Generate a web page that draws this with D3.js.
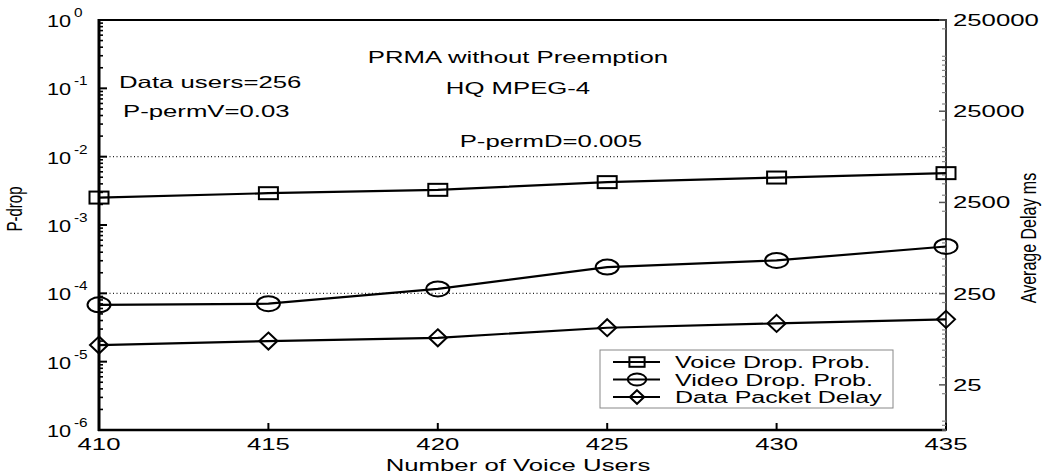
<!DOCTYPE html>
<html>
<head>
<meta charset="utf-8">
<script src="https://cdn.jsdelivr.net/npm/d3@7"></script>
<style>
  body { margin: 0; background: #fff; }
  svg { display: block; }
  text { font-family: "Liberation Sans", Arial, Helvetica, sans-serif; fill: #000; }
</style>
</head>
<body>
<svg id="chart" width="1051" height="474"></svg>
<script>
// Number of voice users on the x axis
const voiceUsers = [410, 415, 420, 425, 430, 435];
// Drop probabilities (left axis, log scale)
const voiceDrop = [2.52e-3, 2.92e-3, 3.27e-3, 4.24e-3, 4.95e-3, 5.74e-3];
const videoDrop = [6.8e-5, 7.05e-5, 1.16e-4, 2.42e-4, 3.03e-4, 4.85e-4];
// Average data packet delay in ms (right axis, log scale)
const dataDelay = [68.3, 75.5, 82, 105.7, 118, 130.6];

const leftTickExps = [0, -1, -2, -3, -4, -5, -6];
const rightTicks = [25, 250, 2500, 25000, 250000];
const gridLevels = [1e-2, 1e-4];
const legendLabels = ["Voice Drop. Prob.", "Video Drop. Prob.", "Data Packet Delay"];
const annotations = [
  { text: "PRMA without Preemption", x: 518, y: 63, anchor: "middle" },
  { text: "HQ MPEG-4", x: 518, y: 94, anchor: "middle" },
  { text: "Data users=256", x: 119, y: 88, anchor: "start" },
  { text: "P-permV=0.03", x: 123, y: 117, anchor: "start" },
  { text: "P-permD=0.005", x: 642, y: 147, anchor: "end" }
];

const SX = 1.56;     // horizontal glyph stretch of the figure
const FS = 16.5;

const svg = d3.select("#chart");
const x = d3.scaleLinear().domain([410, 435]).range([99, 946]);
const yL = d3.scaleLog().domain([1e-6, 1]).range([430, 20]);
const yR = d3.scaleLog().domain([8, 250000]).range([430, 20]);

function stext(parent, px, py, str, anchor, size, sx) {
  const g = parent.append("g").attr("transform", `translate(${px},${py}) scale(${sx || SX},1)`);
  return g.append("text").attr("text-anchor", anchor || "start")
    .attr("font-size", size || FS).text(str);
}

// dotted reference lines
svg.append("g").selectAll("line").data(gridLevels).join("line")
  .attr("x1", x(410)).attr("x2", x(435))
  .attr("y1", d => yL(d)).attr("y2", d => yL(d))
  .attr("stroke", "#222").attr("stroke-width", 1.3).attr("stroke-dasharray", "1,2.5");

// frame: top and bottom
svg.append("line").attr("x1", x(410)).attr("x2", x(435)).attr("y1", 20).attr("y2", 20)
  .attr("stroke", "#000").attr("stroke-width", 2);
svg.append("line").attr("x1", x(410) - 1).attr("x2", x(435)).attr("y1", 430).attr("y2", 430)
  .attr("stroke", "#000").attr("stroke-width", 2.5);

// x ticks (inward)
const xt = svg.append("g");
voiceUsers.forEach(v => {
  xt.append("line").attr("x1", x(v)).attr("x2", x(v)).attr("y1", 430).attr("y2", 423)
    .attr("stroke", "#000").attr("stroke-width", 2);
  stext(xt, x(v), 450, String(v), "middle");
});
stext(svg, 518, 471, "Number of Voice Users", "middle");

// left axis
const la = svg.append("g");
la.append("line").attr("x1", x(410)).attr("x2", x(410)).attr("y1", 19).attr("y2", 431)
  .attr("stroke", "#000").attr("stroke-width", 3);
for (let e = -6; e < 0; e++) {
  for (let k = 2; k <= 9; k++) {
    const v = k * Math.pow(10, e);
    la.append("line").attr("x1", x(410)).attr("x2", x(410) + 4)
      .attr("y1", yL(v)).attr("y2", yL(v)).attr("stroke", "#000").attr("stroke-width", 1.6);
  }
}
leftTickExps.forEach(e => {
  const yy = yL(Math.pow(10, e));
  la.append("line").attr("x1", x(410)).attr("x2", x(410) + 8)
    .attr("y1", yy).attr("y2", yy).attr("stroke", "#000").attr("stroke-width", 2);
  stext(la, 47, yy + 7, "10", "start", 17, 1.28);
  stext(la, 74, yy - 3, String(e), "start", 12, 1.28);
});
svg.append("g").attr("transform", "translate(22,209) scale(1.45,1) rotate(-90)")
  .append("text").attr("text-anchor", "middle").attr("font-size", 15).text("P-drop");

// right axis
const ra = svg.append("g");
ra.append("line").attr("x1", x(435)).attr("x2", x(435)).attr("y1", 19).attr("y2", 431)
  .attr("stroke", "#000").attr("stroke-width", 1.5);
for (let e = 0; e <= 5; e++) {
  for (let k = 1; k <= 9; k++) {
    const v = k * Math.pow(10, e);
    if (v < 8 || v > 250000) continue;
    ra.append("line").attr("x1", x(435)).attr("x2", x(435) - 4)
      .attr("y1", yR(v)).attr("y2", yR(v)).attr("stroke", "#888").attr("stroke-width", 1.2);
  }
}
rightTicks.forEach(v => {
  ra.append("line").attr("x1", x(435)).attr("x2", x(435) - 7)
    .attr("y1", yR(v)).attr("y2", yR(v)).attr("stroke", "#555").attr("stroke-width", 1.5);
  stext(ra, 953, yR(v) + 6, String(v), "start");
});
svg.append("g").attr("transform", "translate(1036,238) scale(1.35,1) rotate(-90)")
  .append("text").attr("text-anchor", "middle").attr("font-size", 16).text("Average Delay ms");

// data series
const series = [
  { vals: voiceDrop, y: yL, shape: "square" },
  { vals: videoDrop, y: yL, shape: "circle" },
  { vals: dataDelay, y: yR, shape: "diamond" }
];

function marker(g, cx, cy, shape, s) {
  s = s || 1;
  if (shape === "square") {
    g.append("rect").attr("x", cx - 9.5 * s).attr("y", cy - 6 * s)
      .attr("width", 19 * s).attr("height", 12 * s)
      .attr("fill", "none").attr("stroke", "#000").attr("stroke-width", 2);
  } else if (shape === "circle") {
    g.append("ellipse").attr("cx", cx).attr("cy", cy).attr("rx", 11.5 * s).attr("ry", 7.5 * s)
      .attr("fill", "none").attr("stroke", "#000").attr("stroke-width", 2);
  } else {
    const w = 9 * s, h = 8.5 * s;
    g.append("path").attr("d", `M${cx},${cy - h}L${cx + w},${cy}L${cx},${cy + h}L${cx - w},${cy}Z`)
      .attr("fill", "none").attr("stroke", "#000").attr("stroke-width", 2);
  }
}

const dg = svg.append("g");
series.forEach(s => {
  const line = d3.line().x((d, i) => x(voiceUsers[i])).y(d => s.y(d));
  dg.append("path").datum(s.vals).attr("d", line)
    .attr("fill", "none").attr("stroke", "#000").attr("stroke-width", 2.2);
  s.vals.forEach((v, i) => marker(dg, x(voiceUsers[i]), s.y(v), s.shape));
});

// annotations
annotations.forEach(a => stext(svg, a.x, a.y, a.text, a.anchor));

// legend
const lg = svg.append("g");
lg.append("rect").attr("x", 600).attr("y", 350).attr("width", 293).attr("height", 58)
  .attr("fill", "#fff").attr("stroke", "#888").attr("stroke-width", 1);
legendLabels.forEach((lab, i) => {
  const yy = 362 + i * 17.5;
  lg.append("line").attr("x1", 613).attr("x2", 660).attr("y1", yy).attr("y2", yy)
    .attr("stroke", "#000").attr("stroke-width", 2.2);
  marker(lg, 637, yy, series[i].shape, 0.8);
  stext(lg, 675, yy + 6, lab, "start", 16);
});
</script>
</body>
</html>
